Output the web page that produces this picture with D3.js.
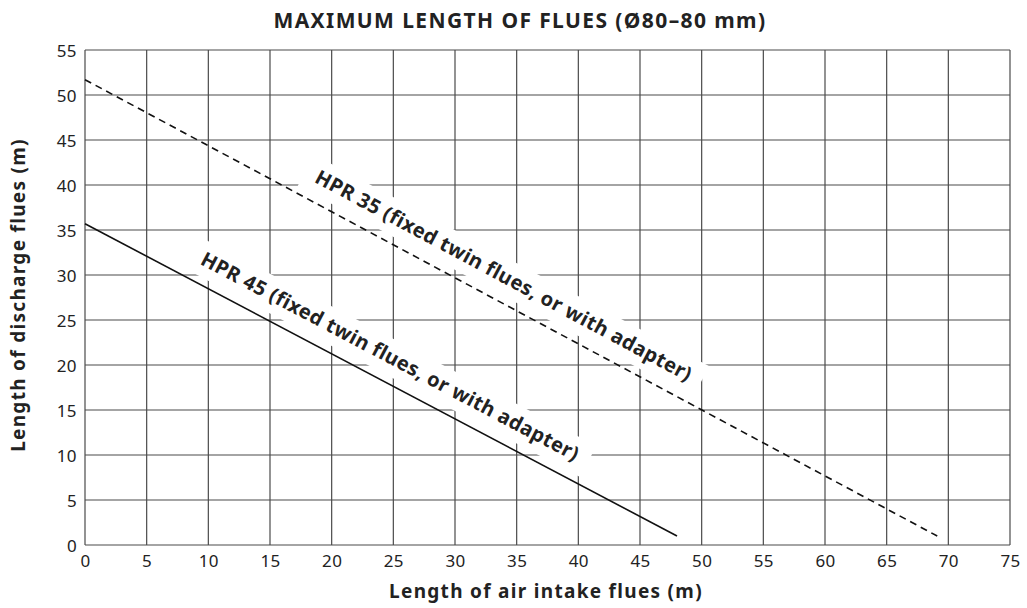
<!DOCTYPE html>
<html lang="en">
<head>
<meta charset="UTF-8" />
<script src="https://d3js.org/d3.v7.min.js"></script>
<style>
  body { margin: 0; background: #fff; }
  text { font-family: "Noto Sans", "Open Sans", sans-serif; fill: #222; }
</style>
</head>
<body>
<svg width="1027" height="608"></svg>
<script>
// chart data
const xTicks = [0, 5, 10, 15, 20, 25, 30, 35, 40, 45, 50, 55, 60, 65, 70, 75];
const yTicks = [0, 5, 10, 15, 20, 25, 30, 35, 40, 45, 50, 55];
const seriesNames = ["HPR 35 (fixed twin flues, or with adapter)", "HPR 45 (fixed twin flues, or with adapter)"];
const hpr35 = [[0, 51.7], [69.1, 1.0]];
const hpr45 = [[0, 35.7], [48.0, 1.0]];
const labelAt = [33.0, 23.8];   // x value where each label sits along its line

var svg = d3.select("svg");
var pLeft = 85, pRight = 1010, pTop = 50, pBottom = 545;

var x = d3.scaleLinear().domain([0, 75]).range([pLeft, pRight]);
var y = d3.scaleLinear().domain([0, 55]).range([pBottom, pTop]);

// grid
svg.append("g")
  .selectAll("line.v").data(xTicks).enter().append("line")
  .attr("x1", d => x(d)).attr("x2", d => x(d))
  .attr("y1", pTop).attr("y2", pBottom)
  .attr("stroke", "#4a4a4a").attr("stroke-width", 1.2);
svg.append("g")
  .selectAll("line.h").data(yTicks).enter().append("line")
  .attr("x1", pLeft).attr("x2", pRight)
  .attr("y1", d => y(d)).attr("y2", d => y(d))
  .attr("stroke", "#4a4a4a").attr("stroke-width", 1.2);

// axes (labels only)
var xAxis = svg.append("g")
  .attr("transform", "translate(0," + pBottom + ")")
  .call(d3.axisBottom(x).tickValues(xTicks).tickSize(0).tickPadding(10));
var yAxis = svg.append("g")
  .attr("transform", "translate(" + pLeft + ",0)")
  .call(d3.axisLeft(y).tickValues(yTicks).tickSize(0).tickPadding(8));
[xAxis, yAxis].forEach(a => {
  a.select(".domain").remove();
  a.selectAll("text").attr("font-size", 17).attr("fill", "#222")
    .attr("letter-spacing", 0.4)
    .style("font-family", "'Noto Sans', sans-serif");
});
yAxis.selectAll("text").attr("dy", "0.36em");

// labels with white boxes
var series = [
  { pts: hpr35, name: seriesNames[0], at: labelAt[0], dash: "7,5" },
  { pts: hpr45, name: seriesNames[1], at: labelAt[1], dash: null }
];

series.forEach(s => {
  var x0 = x(s.pts[0][0]), y0 = y(s.pts[0][1]);
  var x1 = x(s.pts[1][0]), y1 = y(s.pts[1][1]);
  var ang = Math.atan2(y1 - y0, x1 - x0);
  var t = (s.at - s.pts[0][0]) / (s.pts[1][0] - s.pts[0][0]);
  var px = x0 + t * (x1 - x0), py = y0 + t * (y1 - y0);
  var off = 25;
  var cx = px + off * Math.sin(ang), cy = py - off * Math.cos(ang);
  var g = svg.append("g")
    .attr("transform", "translate(" + cx + "," + cy + ") rotate(" + (ang * 180 / Math.PI) + ")");
  var rect = g.append("rect").attr("fill", "#fff");
  var txt = g.append("text")
    .attr("text-anchor", "middle")
    .attr("dy", "0.35em")
    .attr("font-size", 20)
    .attr("letter-spacing", 0.4)
    .attr("font-weight", "bold")
    .text(s.name);
  var bb = txt.node().getBBox();
  rect.attr("x", bb.x - 12).attr("y", bb.y - 3)
    .attr("width", bb.width + 24).attr("height", bb.height + 8);
});

// lines
var line = d3.line().x(d => x(d[0])).y(d => y(d[1]));
series.forEach(s => {
  svg.append("path")
    .attr("d", line(s.pts))
    .attr("fill", "none")
    .attr("stroke", "#111")
    .attr("stroke-width", 1.6)
    .attr("stroke-dasharray", s.dash);
});

// titles
svg.append("text")
  .attr("x", 520).attr("y", 28)
  .attr("text-anchor", "middle")
  .attr("font-size", 21).attr("font-weight", "bold")
  .attr("letter-spacing", 1.4)
  .text("MAXIMUM LENGTH OF FLUES (Ø80–80 mm)");
svg.append("text")
  .attr("x", 546).attr("y", 598)
  .attr("text-anchor", "middle")
  .attr("font-size", 19).attr("font-weight", "bold")
  .attr("letter-spacing", 1.3)
  .text("Length of air intake flues (m)");
svg.append("text")
  .attr("transform", "translate(25,295) rotate(-90)")
  .attr("text-anchor", "middle")
  .attr("font-size", 19).attr("font-weight", "bold")
  .attr("letter-spacing", 1.3)
  .text("Length of discharge flues (m)");
</script>
</body>
</html>
